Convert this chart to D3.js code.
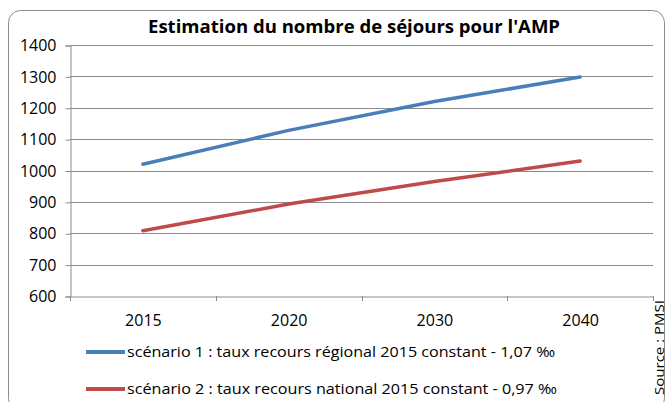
<!DOCTYPE html>
<html>
<head>
<meta charset="utf-8">
<script src="https://cdn.jsdelivr.net/npm/d3@7"></script>
<style>
  body { margin: 0; background: #fff; }
  text { font-family: "Open Sans", Lato, sans-serif; fill: #000; }
</style>
</head>
<body>
<svg id="chart" width="668" height="402"></svg>
<script>
// chart values
var years = ["2015", "2020", "2030", "2040"];
var scenario1 = [1020, 1128, 1220, 1298];
var scenario2 = [808, 893, 965, 1030];
var yTicks = [600, 700, 800, 900, 1000, 1100, 1200, 1300, 1400];
var seriesNames = [
    "scénario 1 : taux recours régional 2015 constant - 1,07 ‰",
    "scénario 2 : taux recours national 2015 constant - 0,97 ‰"
];
var colors = ["#4a7ebb", "#be4b48"];

var svg = d3.select("#chart");

// frame
svg.append("rect")
    .attr("x", 8.5).attr("y", 10.5)
    .attr("width", 656).attr("height", 400)
    .attr("rx", 12).attr("ry", 12)
    .style("fill", "#fff")
    .style("stroke", "#8c8c8c")
    .style("stroke-width", 1);

var plotLeft = 70, plotRight = 653, plotTop = 45, plotBottom = 296;

var x = d3.scaleBand().domain(years).range([plotLeft, plotRight]);
var y = d3.scaleLinear().domain([600, 1400]).range([plotBottom, plotTop]);

// gridlines
svg.append("g")
    .selectAll("line")
    .data(yTicks.slice(1))
    .join("line")
    .attr("x1", plotLeft).attr("x2", plotRight)
    .attr("y1", function(d) { return Math.round(y(d)) + 0.5; })
    .attr("y2", function(d) { return Math.round(y(d)) + 0.5; })
    .style("stroke", "#8c8c8c")
    .style("stroke-width", 1);

// y axis
var yAxis = svg.append("g")
    .attr("transform", "translate(" + (plotLeft + 0.5) + ",0.5)")
    .call(d3.axisLeft(y).tickValues(yTicks).tickFormat(d3.format("d")).tickSize(5).tickPadding(9));
yAxis.selectAll("path, line").style("stroke", "#8c8c8c");
yAxis.selectAll("text").style("font-size", "16px").style("font-family", "'Open Sans', sans-serif");

// x axis
var xAxis = svg.append("g")
    .attr("transform", "translate(0.5," + (plotBottom + 0.5) + ")")
    .call(d3.axisBottom(x).tickSize(0).tickPadding(18));
xAxis.select("path").style("stroke", "#8c8c8c");
xAxis.selectAll("text").style("font-size", "16px").style("font-family", "'Open Sans', sans-serif");

// category separators
svg.append("g")
    .selectAll("line")
    .data(d3.range(years.length + 1))
    .join("line")
    .attr("x1", function(i) { return Math.round(plotLeft + i * x.step()) + 0.5; })
    .attr("x2", function(i) { return Math.round(plotLeft + i * x.step()) + 0.5; })
    .attr("y1", plotBottom).attr("y2", plotBottom + 5)
    .style("stroke", "#8c8c8c");

// lines
var line = d3.line()
    .x(function(d, i) { return x(years[i]) + x.bandwidth() / 2; })
    .y(function(d) { return y(d); });

[scenario1, scenario2].forEach(function(s, k) {
    svg.append("path")
        .datum(s)
        .attr("d", line)
        .style("fill", "none")
        .style("stroke", colors[k])
        .style("stroke-width", 3.5)
        .style("stroke-linecap", "round");
});

// title
svg.append("text")
    .attr("x", 148).attr("y", 33)
    .attr("textLength", 412)
    .attr("lengthAdjust", "spacingAndGlyphs")
    .style("font-size", "18px")
    .style("font-weight", "bold")
    .text("Estimation du nombre de séjours pour l'AMP");

// legend
var legend = svg.append("g");
seriesNames.forEach(function(name, k) {
    var ly = 352 + k * 37;
    legend.append("line")
        .attr("x1", 86).attr("x2", 125)
        .attr("y1", ly).attr("y2", ly)
        .style("stroke", colors[k])
        .style("stroke-width", 4);
    legend.append("text")
        .attr("x", 127).attr("y", ly + 5)
        .attr("textLength", k === 0 ? 428 : 430)
        .attr("lengthAdjust", "spacingAndGlyphs")
        .style("font-size", "15px")
        .text(name);
});

// source
svg.append("text")
    .attr("transform", "translate(664,395) rotate(-90)")
    .attr("textLength", 95)
    .attr("lengthAdjust", "spacingAndGlyphs")
    .style("font-size", "13px")
    .text("Source : PMSI");
</script>
</body>
</html>
